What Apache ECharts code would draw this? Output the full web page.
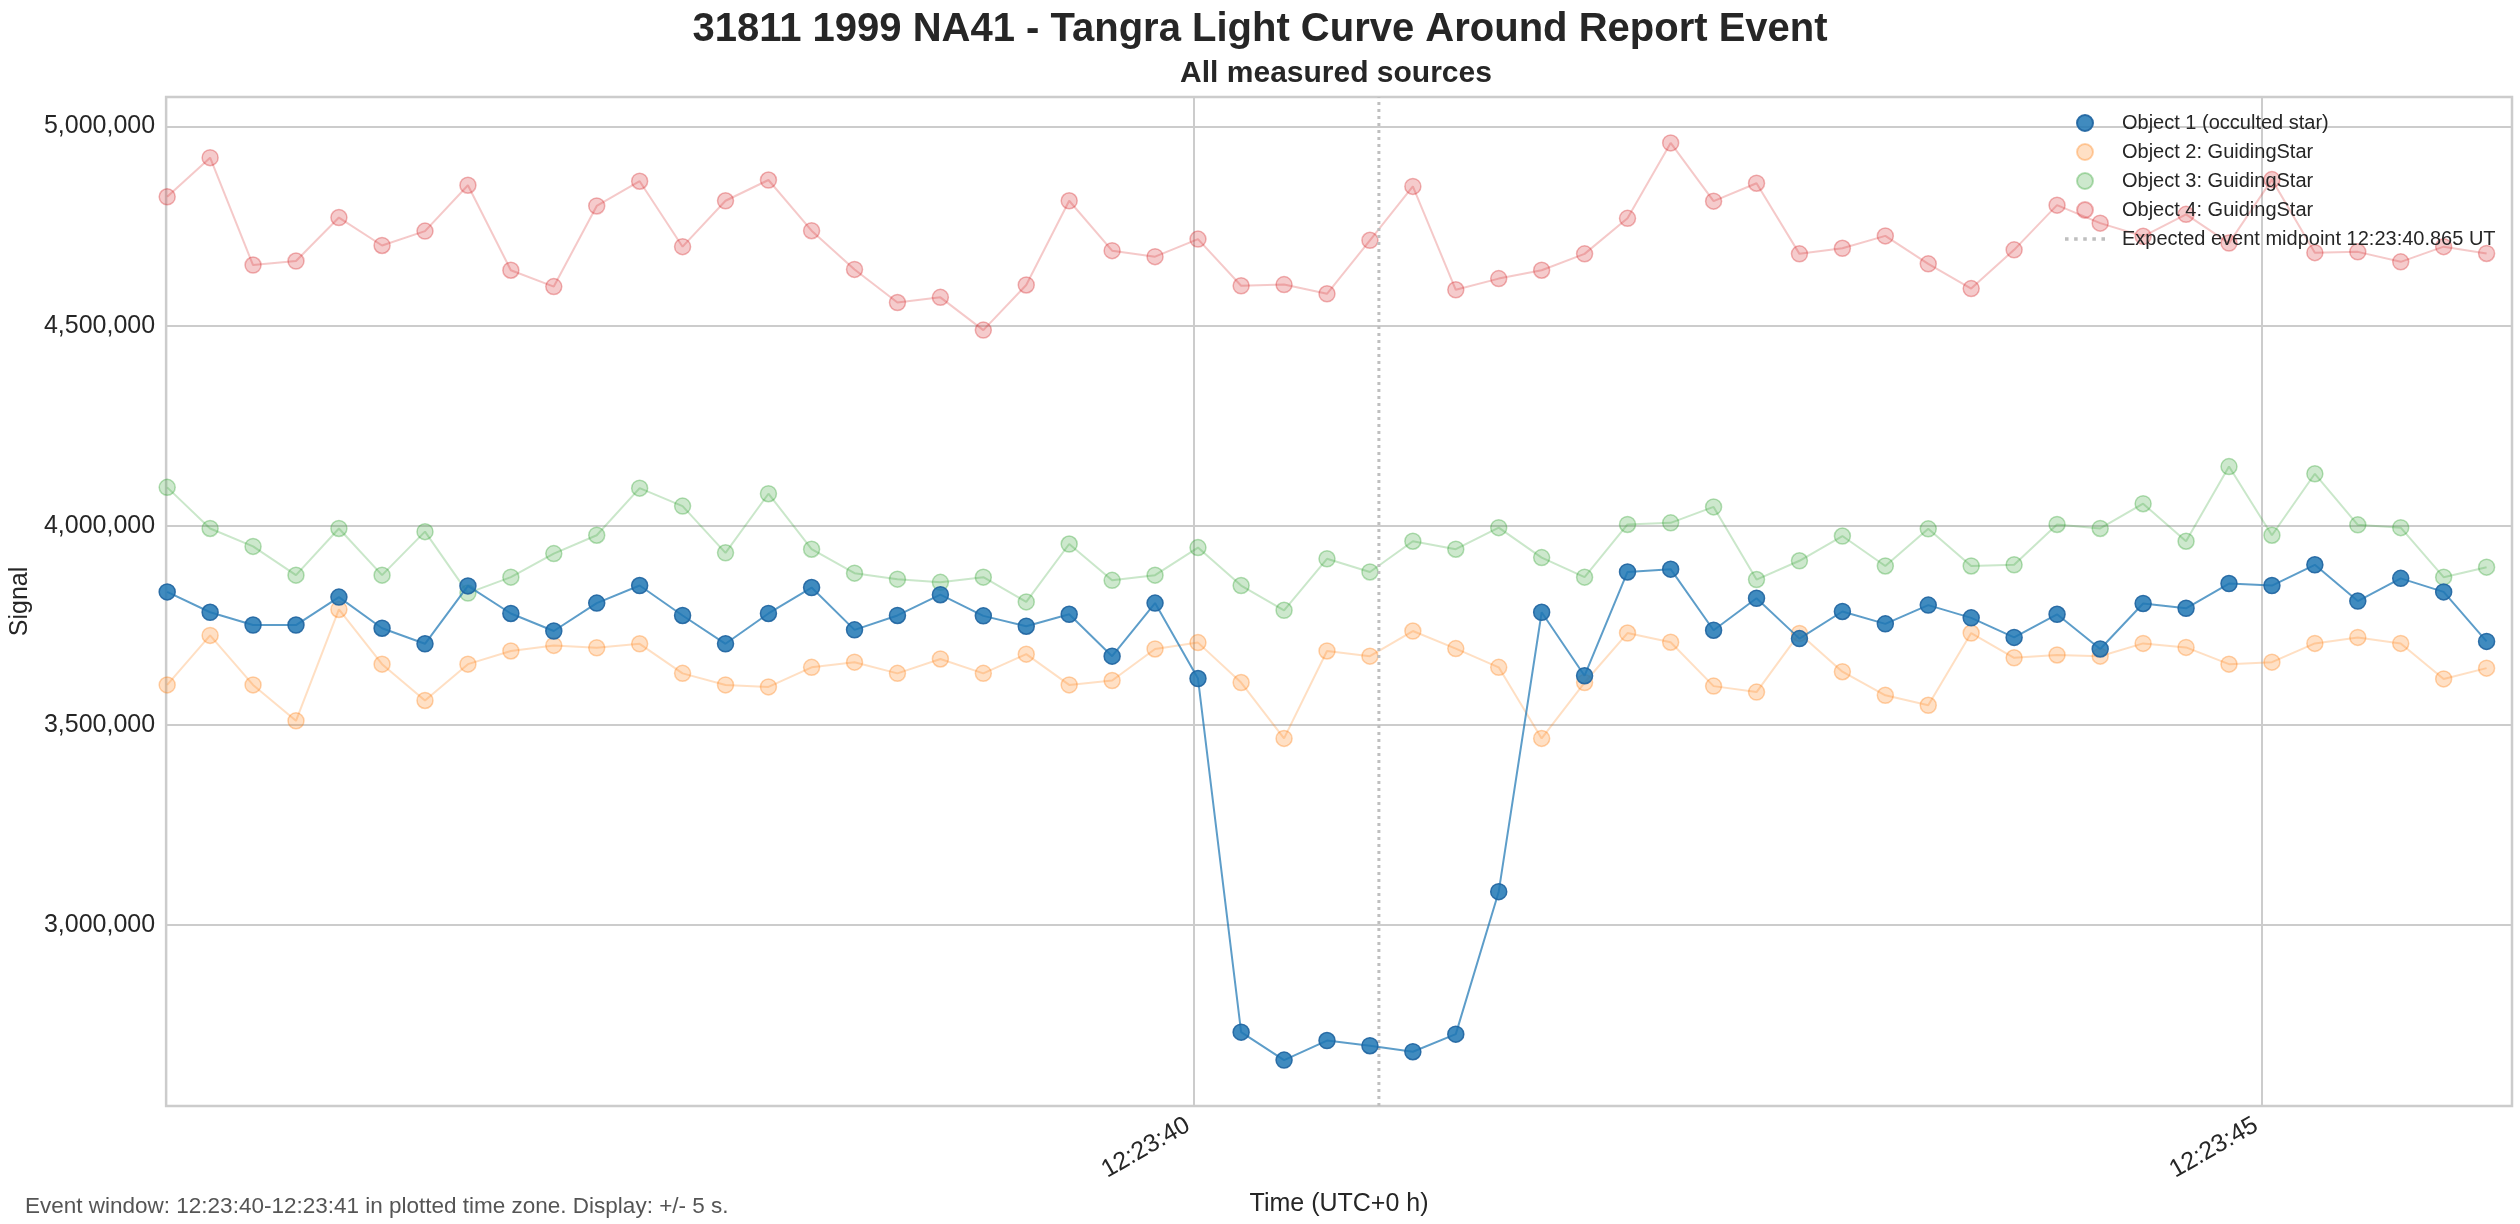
<!DOCTYPE html>
<html>
<head>
<meta charset="utf-8">
<title>31811 1999 NA41 - Tangra Light Curve</title>
<script src="https://cdn.jsdelivr.net/npm/echarts@6/dist/echarts.min.js"></script>
<style>
  html, body { margin: 0; padding: 0; background: #ffffff; }
  #chart { width: 2520px; height: 1224px; }
</style>
</head>
<body>
<div id="chart"></div>
<script>
// frame times, seconds after 12:23:00 UT
const times = [
  35.192, 35.393, 35.594, 35.795, 35.996, 36.198, 36.399, 36.600, 36.801, 37.002,
  37.203, 37.404, 37.605, 37.806, 38.007, 38.209, 38.410, 38.611, 38.812, 39.013,
  39.214, 39.415, 39.616, 39.817, 40.018, 40.220, 40.421, 40.622, 40.823, 41.024,
  41.225, 41.426, 41.627, 41.828, 42.029, 42.231, 42.432, 42.633, 42.834, 43.035,
  43.236, 43.437, 43.638, 43.839, 44.040, 44.242, 44.443, 44.644, 44.845, 45.046,
  45.247, 45.448, 45.649, 45.850, 46.051
];

// Object 1 (occulted star)
const obj1 = [
  3834000, 3783000, 3751000, 3751000, 3821000, 3743000, 3704000, 3849000, 3780000, 3736000,
  3806000, 3850000, 3775000, 3704000, 3780000, 3845000, 3739000, 3775000, 3827000, 3774000,
  3748000, 3778000, 3673000, 3806000, 3617000, 2731000, 2661000, 2710000, 2697000, 2682000,
  2726000, 3083000, 3783000, 3624000, 3884000, 3891000, 3738000, 3818000, 3717000, 3785000,
  3754000, 3801000, 3769000, 3720000, 3778000, 3691000, 3805000, 3793000, 3855000, 3850000,
  3902000, 3811000, 3868000, 3834000, 3710000
];

// Object 2: GuidingStar
const obj2 = [
  3601000, 3725000, 3601000, 3511000, 3790000, 3653000, 3562000, 3653000, 3686000, 3700000,
  3694000, 3704000, 3630000, 3601000, 3596000, 3645000, 3658000, 3630000, 3666000, 3630000,
  3678000, 3601000, 3612000, 3691000, 3707000, 3607000, 3467000, 3686000, 3673000, 3736000,
  3692000, 3645000, 3467000, 3607000, 3731000, 3708000, 3598000, 3583000, 3730000, 3634000,
  3575000, 3550000, 3731000, 3669000, 3676000, 3673000, 3705000, 3695000, 3653000, 3658000,
  3705000, 3720000, 3705000, 3616000, 3643000
];

// Object 3: GuidingStar
const obj3 = [
  4096000, 3993000, 3948000, 3876000, 3993000, 3876000, 3985000, 3831000, 3871000, 3930000,
  3976000, 4094000, 4049000, 3932000, 4080000, 3941000, 3881000, 3866000, 3858000, 3871000,
  3809000, 3954000, 3863000, 3876000, 3945000, 3850000, 3788000, 3917000, 3884000, 3961000,
  3941000, 3995000, 3920000, 3871000, 4003000, 4007000, 4047000, 3865000, 3912000, 3974000,
  3899000, 3992000, 3899000, 3902000, 4003000, 3993000, 4055000, 3961000, 4148000, 3976000,
  4130000, 4002000, 3995000, 3871000, 3896000
];

// Object 4: GuidingStar
const obj4 = [
  4824000, 4922000, 4653000, 4663000, 4772000, 4702000, 4738000, 4853000, 4640000, 4599000,
  4801000, 4863000, 4699000, 4814000, 4866000, 4739000, 4642000, 4559000, 4572000, 4490000,
  4603000, 4814000, 4689000, 4674000, 4718000, 4601000, 4604000, 4581000, 4715000, 4850000,
  4591000, 4619000, 4640000, 4681000, 4770000, 4959000, 4813000, 4858000, 4681000, 4695000,
  4726000, 4656000, 4594000, 4691000, 4803000, 4758000, 4725000, 4780000, 4708000, 4867000,
  4684000, 4686000, 4661000, 4699000, 4682000
];

const seriesNames = [
  'Object 1 (occulted star)',
  'Object 2: GuidingStar',
  'Object 3: GuidingStar',
  'Object 4: GuidingStar'
];
const eventMid = 40.865;
const eventName = 'Expected event midpoint 12:23:40.865 UT';

const xTicks = [40, 45];
const yTicks = [3000000, 3500000, 4000000, 4500000, 5000000];
const xMin = 35.187, xMax = 46.17;
const yMin = 2546000, yMax = 5074000;

const FONT = '"Liberation Sans", Arial, Helvetica, sans-serif';
const TEXT = '#262626';
const GRID = '#cccccc';
const EVENT_GREY = '#bfbfbf';
// five little dots for the legend entry of the dotted midpoint line
const DOTS_ICON = 'path://M0,0h3.5v3.5h-3.5z M9,0h3.5v3.5h-3.5z M18,0h3.5v3.5h-3.5z M27,0h3.5v3.5h-3.5z M36,0h3.5v3.5h-3.5z';

function pairs(ys) {
  return times.map((t, i) => [t, ys[i]]);
}

function lightSeries(name, ys, rgb) {
  return {
    name: name,
    type: 'line',
    data: pairs(ys),
    symbol: 'circle',
    symbolSize: 16,
    z: 2,
    lineStyle: { color: 'rgba(' + rgb + ',0.25)', width: 2 },
    itemStyle: {
      color: 'rgba(' + rgb + ',0.24)',
      borderColor: 'rgba(' + rgb + ',0.34)',
      borderWidth: 1.5
    },
    emphasis: { disabled: true }
  };
}

const chart = echarts.init(document.getElementById('chart'), null, { renderer: 'canvas' });

chart.setOption({
  backgroundColor: '#ffffff',
  animation: false,
  textStyle: { fontFamily: FONT, color: TEXT },
  title: [
    {
      text: '31811 1999 NA41 - Tangra Light Curve Around Report Event',
      left: 'center',
      top: 10,
      padding: 0,
      textStyle: { fontFamily: FONT, fontSize: 40, fontWeight: 'bold', color: TEXT, lineHeight: 40 }
    },
    {
      text: 'All measured sources',
      left: 1336,
      textAlign: 'center',
      top: 59,
      padding: 0,
      textStyle: { fontFamily: FONT, fontSize: 30, fontWeight: 'bold', color: TEXT, lineHeight: 30 }
    }
  ],
  legend: {
    orient: 'vertical',
    left: 2065,
    top: 113,
    padding: 0,
    itemWidth: 40,
    itemHeight: 16,
    itemGap: 9,
    selectedMode: false,
    textStyle: { fontFamily: FONT, fontSize: 20, color: TEXT, padding: [0, 0, 0, 12] },
    data: [
      { name: seriesNames[0], icon: 'circle' },
      { name: seriesNames[1], icon: 'circle' },
      { name: seriesNames[2], icon: 'circle' },
      { name: seriesNames[3], icon: 'circle' },
      { name: eventName, icon: DOTS_ICON, itemStyle: { color: EVENT_GREY, borderWidth: 0 } }
    ]
  },
  grid: {
    left: 161,
    right: 8,
    top: 97,
    bottom: 118,
    show: true,
    borderColor: GRID,
    borderWidth: 2.5,
    containLabel: false
  },
  xAxis: {
    type: 'value',
    min: xMin,
    max: xMax,
    name: 'Time (UTC+0 h)',
    nameLocation: 'middle',
    nameGap: 86,
    nameTextStyle: { fontFamily: FONT, fontSize: 25, color: TEXT },
    axisLine: { show: false },
    axisTick: { show: false, customValues: xTicks },
    axisLabel: {
      customValues: xTicks,
      rotate: 30,
      margin: 14,
      padding: [0, 7, 0, 0],
      fontFamily: FONT,
      fontSize: 25,
      color: TEXT,
      formatter: v => '12:23:' + String(Math.round(v)).padStart(2, '0')
    },
    splitLine: { show: true, lineStyle: { color: GRID, width: 2 } }
  },
  yAxis: {
    type: 'value',
    min: yMin,
    max: yMax,
    name: 'Signal',
    nameLocation: 'middle',
    nameGap: 131,
    nameTextStyle: { fontFamily: FONT, fontSize: 25, color: TEXT },
    axisLine: { show: false },
    axisTick: { show: false, customValues: yTicks },
    axisLabel: {
      customValues: yTicks,
      margin: 11,
      fontFamily: FONT,
      fontSize: 25,
      color: TEXT,
      formatter: v => Number(v).toLocaleString('en-US')
    },
    splitLine: { show: true, lineStyle: { color: GRID, width: 2 } }
  },
  graphic: [
    {
      type: 'text',
      left: 25,
      top: 1195,
      style: {
        text: 'Event window: 12:23:40-12:23:41 in plotted time zone. Display: +/- 5 s.',
        font: '22.5px ' + FONT,
        fill: '#555555'
      }
    }
  ],
  series: [
    lightSeries(seriesNames[3], obj4, '214,39,40'),
    lightSeries(seriesNames[2], obj3, '44,160,44'),
    lightSeries(seriesNames[1], obj2, '255,127,14'),
    {
      name: seriesNames[0],
      type: 'line',
      data: pairs(obj1),
      symbol: 'circle',
      symbolSize: 16,
      z: 4,
      lineStyle: { color: 'rgba(31,119,180,0.72)', width: 2 },
      itemStyle: {
        color: 'rgba(31,119,180,0.85)',
        borderColor: 'rgba(31,100,160,0.9)',
        borderWidth: 1.5
      },
      emphasis: { disabled: true }
    },
    {
      name: eventName,
      type: 'line',
      data: [[eventMid, yMin], [eventMid, yMax]],
      symbol: 'none',
      z: 3,
      lineStyle: { color: EVENT_GREY, width: 3, type: [3, 4] },
      emphasis: { disabled: true }
    }
  ]
});
</script>
</body>
</html>
